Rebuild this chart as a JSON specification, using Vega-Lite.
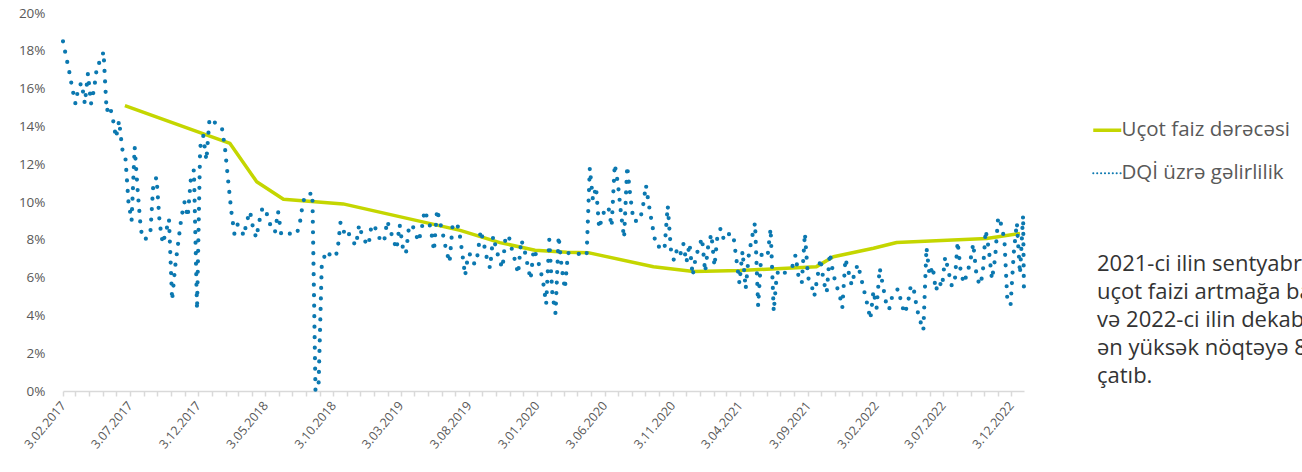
{
  "$schema": "https://vega.github.io/schema/vega-lite/v6.json",
  "width": 961,
  "height": 378,
  "autosize": {"type": "none"},
  "padding": {"left": 63, "top": 13, "right": 278, "bottom": 81},
  "background": "white",
  "config": {"view": {"stroke": null}, "font": "Open Sans"},
  "title": {
    "text": ["2021-ci ilin sentyabrından", "uçot faizi artmağa başlayıb", "və 2022-ci ilin dekabrında", "ən yüksək nöqtəyə 8,25%-ə", "çatıb."],
    "orient": "top",
    "anchor": "start",
    "frame": "group",
    "baseline": "top",
    "offset": 0,
    "dx": 1034,
    "dy": 382,
    "font": "Open Sans",
    "fontSize": 22,
    "fontWeight": "normal",
    "lineHeight": 28,
    "color": "#333333"
  },
  "datasets": {
    "rate": [
      {"date": "2017-06-22", "v": 15.1},
      {"date": "2018-02-13", "v": 13.1},
      {"date": "2018-04-14", "v": 11.07},
      {"date": "2018-06-13", "v": 10.15},
      {"date": "2018-10-25", "v": 9.9},
      {"date": "2019-07-15", "v": 8.5},
      {"date": "2019-10-12", "v": 7.85},
      {"date": "2019-12-30", "v": 7.45},
      {"date": "2020-03-10", "v": 7.34},
      {"date": "2020-04-27", "v": 7.32},
      {"date": "2020-09-21", "v": 6.57},
      {"date": "2020-12-20", "v": 6.32},
      {"date": "2021-04-03", "v": 6.37},
      {"date": "2021-09-22", "v": 6.58},
      {"date": "2021-10-30", "v": 7.1},
      {"date": "2022-01-28", "v": 7.55},
      {"date": "2022-03-21", "v": 7.86},
      {"date": "2022-10-09", "v": 8.07},
      {"date": "2022-12-23", "v": 8.34}
    ],
    "dqi": [
      {"date": "2017-02-03", "v": 18.5}, {"date": "2017-02-10", "v": 17.7}, {"date": "2017-02-17", "v": 16.9}, {"date": "2017-02-24", "v": 16.0},
      {"date": "2017-03-03", "v": 15.2}, {"date": "2017-03-10", "v": 16.1}, {"date": "2017-03-17", "v": 16.3}, {"date": "2017-03-24", "v": 15.2}, {"date": "2017-03-31", "v": 16.8},
      {"date": "2017-04-07", "v": 15.2}, {"date": "2017-04-14", "v": 16.0}, {"date": "2017-04-21", "v": 17.3}, {"date": "2017-04-28", "v": 17.4},
      {"date": "2017-05-05", "v": 17.95}, {"date": "2017-05-12", "v": 14.8}, {"date": "2017-05-19", "v": 15.1}, {"date": "2017-05-26", "v": 14.4},
      {"date": "2017-06-02", "v": 13.4}, {"date": "2017-06-09", "v": 14.3}, {"date": "2017-06-16", "v": 12.8}, {"date": "2017-06-23", "v": 12.4}, {"date": "2017-06-30", "v": 10.0},
      {"date": "2017-07-07", "v": 9.0}, {"date": "2017-07-14", "v": 12.9}, {"date": "2017-07-21", "v": 10.5}, {"date": "2017-07-28", "v": 8.5},
      {"date": "2017-08-04", "v": 8.0}, {"date": "2017-08-11", "v": 8.1}, {"date": "2017-08-18", "v": 8.3}, {"date": "2017-08-25", "v": 11.0},
      {"date": "2017-09-01", "v": 11.3}, {"date": "2017-09-08", "v": 8.9}, {"date": "2017-09-15", "v": 7.8}, {"date": "2017-09-22", "v": 8.4}, {"date": "2017-09-29", "v": 9.1},
      {"date": "2017-10-06", "v": 4.8}, {"date": "2017-10-13", "v": 6.6}, {"date": "2017-10-20", "v": 7.9}, {"date": "2017-10-27", "v": 9.2},
      {"date": "2017-11-03", "v": 10.0}, {"date": "2017-11-10", "v": 9.2}, {"date": "2017-11-17", "v": 11.2}, {"date": "2017-11-24", "v": 11.7},
      {"date": "2017-12-01", "v": 4.3}, {"date": "2017-12-08", "v": 12.9}, {"date": "2017-12-15", "v": 13.5}, {"date": "2017-12-22", "v": 12.2}, {"date": "2017-12-29", "v": 14.4},
      {"date": "2018-01-05", "v": 14.2}, {"date": "2018-01-12", "v": 14.2}, {"date": "2018-01-19", "v": 14.0}, {"date": "2018-01-26", "v": 13.9},
      {"date": "2018-02-02", "v": 12.8}, {"date": "2018-02-09", "v": 11.1}, {"date": "2018-02-16", "v": 9.5}, {"date": "2018-02-23", "v": 8.3},
      {"date": "2018-03-02", "v": 8.8}, {"date": "2018-03-09", "v": 8.6}, {"date": "2018-03-16", "v": 8.2}, {"date": "2018-03-23", "v": 9.0}, {"date": "2018-03-30", "v": 9.5},
      {"date": "2018-04-06", "v": 8.6}, {"date": "2018-04-13", "v": 8.1}, {"date": "2018-04-20", "v": 9.0}, {"date": "2018-04-27", "v": 9.7},
      {"date": "2018-05-04", "v": 9.6}, {"date": "2018-05-11", "v": 9.0}, {"date": "2018-05-18", "v": 8.6}, {"date": "2018-05-25", "v": 8.4},
      {"date": "2018-06-01", "v": 9.5}, {"date": "2018-06-08", "v": 8.3}, {"date": "2018-06-15", "v": 8.3}, {"date": "2018-06-22", "v": 8.4}, {"date": "2018-06-29", "v": 8.3},
      {"date": "2018-07-06", "v": 8.3}, {"date": "2018-07-13", "v": 8.3}, {"date": "2018-07-20", "v": 8.9}, {"date": "2018-07-27", "v": 10.0},
      {"date": "2018-08-03", "v": 10.4}, {"date": "2018-08-10", "v": 10.4}, {"date": "2018-08-17", "v": 10.5}, {"date": "2018-08-24", "v": 0.0}, {"date": "2018-08-31", "v": 0.4},
      {"date": "2018-09-07", "v": 6.6}, {"date": "2018-09-14", "v": 7.2}, {"date": "2018-09-21", "v": 7.4}, {"date": "2018-09-28", "v": 7.05},
      {"date": "2018-10-05", "v": 7.2}, {"date": "2018-10-12", "v": 7.3}, {"date": "2018-10-19", "v": 8.9}, {"date": "2018-10-26", "v": 8.4},
      {"date": "2018-11-02", "v": 8.6}, {"date": "2018-11-09", "v": 8.2}, {"date": "2018-11-16", "v": 7.9}, {"date": "2018-11-23", "v": 7.7}, {"date": "2018-11-30", "v": 8.8},
      {"date": "2018-12-07", "v": 8.2}, {"date": "2018-12-14", "v": 7.9}, {"date": "2018-12-21", "v": 7.7}, {"date": "2018-12-28", "v": 8.8},
      {"date": "2019-01-04", "v": 8.7}, {"date": "2019-01-11", "v": 8.3}, {"date": "2019-01-18", "v": 7.9}, {"date": "2019-01-25", "v": 7.9},
      {"date": "2019-02-01", "v": 9.0}, {"date": "2019-02-08", "v": 8.5}, {"date": "2019-02-15", "v": 8.0}, {"date": "2019-02-22", "v": 7.5},
      {"date": "2019-03-01", "v": 8.8}, {"date": "2019-03-08", "v": 7.6}, {"date": "2019-03-15", "v": 7.25}, {"date": "2019-03-22", "v": 8.7}, {"date": "2019-03-29", "v": 8.8},
      {"date": "2019-04-05", "v": 8.4}, {"date": "2019-04-12", "v": 7.9}, {"date": "2019-04-19", "v": 8.5}, {"date": "2019-04-26", "v": 9.55},
      {"date": "2019-05-03", "v": 9.1}, {"date": "2019-05-10", "v": 8.6}, {"date": "2019-05-17", "v": 7.4}, {"date": "2019-05-24", "v": 9.6}, {"date": "2019-05-31", "v": 8.9},
      {"date": "2019-06-07", "v": 8.2}, {"date": "2019-06-14", "v": 7.4}, {"date": "2019-06-21", "v": 6.8}, {"date": "2019-06-28", "v": 8.8},
      {"date": "2019-07-05", "v": 8.9}, {"date": "2019-07-12", "v": 8.6}, {"date": "2019-07-19", "v": 7.4}, {"date": "2019-07-26", "v": 6.1},
      {"date": "2019-08-02", "v": 7.25}, {"date": "2019-08-09", "v": 7.2}, {"date": "2019-08-16", "v": 6.7}, {"date": "2019-08-23", "v": 7.2}, {"date": "2019-08-30", "v": 8.5},
      {"date": "2019-09-06", "v": 7.8}, {"date": "2019-09-13", "v": 7.0}, {"date": "2019-09-20", "v": 6.5}, {"date": "2019-09-27", "v": 8.2},
      {"date": "2019-10-04", "v": 7.5}, {"date": "2019-10-11", "v": 6.9}, {"date": "2019-10-18", "v": 6.5}, {"date": "2019-10-25", "v": 8.2},
      {"date": "2019-11-01", "v": 8.2}, {"date": "2019-11-08", "v": 7.5}, {"date": "2019-11-15", "v": 6.9}, {"date": "2019-11-22", "v": 6.2}, {"date": "2019-11-29", "v": 8.0},
      {"date": "2019-12-06", "v": 7.5}, {"date": "2019-12-13", "v": 6.7}, {"date": "2019-12-20", "v": 5.9}, {"date": "2019-12-27", "v": 7.5},
      {"date": "2020-01-03", "v": 7.1}, {"date": "2020-01-10", "v": 6.5}, {"date": "2020-01-17", "v": 5.8}, {"date": "2020-01-24", "v": 4.6}, {"date": "2020-01-31", "v": 8.0},
      {"date": "2020-02-07", "v": 5.1}, {"date": "2020-02-14", "v": 4.1}, {"date": "2020-02-21", "v": 8.2}, {"date": "2020-02-28", "v": 6.5},
      {"date": "2020-03-06", "v": 5.4}, {"date": "2020-03-13", "v": 7.3}, {"date": "2020-03-20", "v": 7.3}, {"date": "2020-03-27", "v": 7.3},
      {"date": "2020-04-03", "v": 7.3}, {"date": "2020-04-10", "v": 7.2}, {"date": "2020-04-17", "v": 7.1}, {"date": "2020-04-24", "v": 7.3},
      {"date": "2020-05-01", "v": 11.8}, {"date": "2020-05-08", "v": 10.1}, {"date": "2020-05-15", "v": 10.8}, {"date": "2020-05-22", "v": 8.6}, {"date": "2020-05-29", "v": 9.2},
      {"date": "2020-06-05", "v": 9.7}, {"date": "2020-06-12", "v": 9.7}, {"date": "2020-06-19", "v": 8.7}, {"date": "2020-06-26", "v": 12.0},
      {"date": "2020-07-03", "v": 11.0}, {"date": "2020-07-10", "v": 9.4}, {"date": "2020-07-17", "v": 8.1}, {"date": "2020-07-24", "v": 11.9}, {"date": "2020-07-31", "v": 10.3},
      {"date": "2020-08-07", "v": 9.0}, {"date": "2020-08-14", "v": 9.0}, {"date": "2020-08-21", "v": 9.0}, {"date": "2020-08-28", "v": 9.7},
      {"date": "2020-09-04", "v": 10.9}, {"date": "2020-09-11", "v": 9.8}, {"date": "2020-09-18", "v": 8.8}, {"date": "2020-09-25", "v": 7.9},
      {"date": "2020-10-02", "v": 7.6}, {"date": "2020-10-09", "v": 7.8}, {"date": "2020-10-16", "v": 7.6}, {"date": "2020-10-23", "v": 9.8}, {"date": "2020-10-30", "v": 7.5},
      {"date": "2020-11-06", "v": 6.9}, {"date": "2020-11-13", "v": 7.5}, {"date": "2020-11-20", "v": 7.2}, {"date": "2020-11-27", "v": 7.8},
      {"date": "2020-12-04", "v": 6.8}, {"date": "2020-12-11", "v": 7.8}, {"date": "2020-12-18", "v": 6.1}, {"date": "2020-12-25", "v": 7.1},
      {"date": "2021-01-01", "v": 7.6}, {"date": "2021-01-08", "v": 8.1}, {"date": "2021-01-15", "v": 6.3}, {"date": "2021-01-22", "v": 7.7}, {"date": "2021-01-29", "v": 8.3},
      {"date": "2021-02-05", "v": 6.6}, {"date": "2021-02-12", "v": 8.3}, {"date": "2021-02-19", "v": 8.6}, {"date": "2021-02-26", "v": 8.0},
      {"date": "2021-03-05", "v": 8.3}, {"date": "2021-03-12", "v": 8.3}, {"date": "2021-03-19", "v": 8.3}, {"date": "2021-03-26", "v": 7.0},
      {"date": "2021-04-02", "v": 5.7}, {"date": "2021-04-09", "v": 7.4}, {"date": "2021-04-16", "v": 5.4}, {"date": "2021-04-23", "v": 7.2}, {"date": "2021-04-30", "v": 8.1},
      {"date": "2021-05-07", "v": 8.9}, {"date": "2021-05-14", "v": 4.5}, {"date": "2021-05-21", "v": 7.2}, {"date": "2021-05-28", "v": 7.2},
      {"date": "2021-06-04", "v": 7.1}, {"date": "2021-06-11", "v": 8.6}, {"date": "2021-06-18", "v": 4.2}, {"date": "2021-06-25", "v": 6.2},
      {"date": "2021-07-02", "v": 6.4}, {"date": "2021-07-09", "v": 6.2}, {"date": "2021-07-16", "v": 6.3}, {"date": "2021-07-23", "v": 6.4}, {"date": "2021-07-30", "v": 6.6},
      {"date": "2021-08-06", "v": 7.2}, {"date": "2021-08-13", "v": 6.0}, {"date": "2021-08-20", "v": 5.7}, {"date": "2021-08-27", "v": 8.35},
      {"date": "2021-09-03", "v": 6.0}, {"date": "2021-09-10", "v": 5.7}, {"date": "2021-09-17", "v": 5.0}, {"date": "2021-09-24", "v": 6.0},
      {"date": "2021-10-01", "v": 7.0}, {"date": "2021-10-08", "v": 5.8}, {"date": "2021-10-15", "v": 5.2}, {"date": "2021-10-22", "v": 7.3}, {"date": "2021-10-29", "v": 6.3},
      {"date": "2021-11-05", "v": 5.6}, {"date": "2021-11-12", "v": 5.2}, {"date": "2021-11-19", "v": 4.4}, {"date": "2021-11-26", "v": 7.0},
      {"date": "2021-12-03", "v": 6.3}, {"date": "2021-12-10", "v": 5.6}, {"date": "2021-12-17", "v": 6.3}, {"date": "2021-12-24", "v": 6.7}, {"date": "2021-12-31", "v": 6.0},
      {"date": "2022-01-07", "v": 5.3}, {"date": "2022-01-14", "v": 4.6}, {"date": "2022-01-21", "v": 3.8}, {"date": "2022-01-28", "v": 5.3},
      {"date": "2022-02-04", "v": 4.4}, {"date": "2022-02-11", "v": 6.5}, {"date": "2022-02-18", "v": 5.6}, {"date": "2022-02-25", "v": 4.7},
      {"date": "2022-03-04", "v": 4.3}, {"date": "2022-03-11", "v": 5.0}, {"date": "2022-03-18", "v": 5.3}, {"date": "2022-03-25", "v": 5.4},
      {"date": "2022-04-01", "v": 4.6}, {"date": "2022-04-08", "v": 4.1}, {"date": "2022-04-15", "v": 4.6}, {"date": "2022-04-22", "v": 5.6}, {"date": "2022-04-29", "v": 5.3},
      {"date": "2022-05-06", "v": 4.3}, {"date": "2022-05-13", "v": 3.7}, {"date": "2022-05-20", "v": 3.2}, {"date": "2022-05-27", "v": 7.6},
      {"date": "2022-06-03", "v": 6.1}, {"date": "2022-06-10", "v": 6.6}, {"date": "2022-06-17", "v": 5.3}, {"date": "2022-06-24", "v": 5.8},
      {"date": "2022-07-01", "v": 5.5}, {"date": "2022-07-08", "v": 7.1}, {"date": "2022-07-15", "v": 6.4}, {"date": "2022-07-22", "v": 5.6}, {"date": "2022-07-29", "v": 5.6},
      {"date": "2022-08-05", "v": 7.9}, {"date": "2022-08-12", "v": 6.3}, {"date": "2022-08-19", "v": 5.7}, {"date": "2022-08-26", "v": 6.2},
      {"date": "2022-09-02", "v": 6.8}, {"date": "2022-09-09", "v": 7.8}, {"date": "2022-09-16", "v": 6.2}, {"date": "2022-09-23", "v": 5.6}, {"date": "2022-09-30", "v": 6.1},
      {"date": "2022-10-07", "v": 8.5}, {"date": "2022-10-14", "v": 7.5}, {"date": "2022-10-21", "v": 5.9}, {"date": "2022-10-28", "v": 7.0},
      {"date": "2022-11-04", "v": 9.2}, {"date": "2022-11-11", "v": 8.8}, {"date": "2022-11-18", "v": 8.0}, {"date": "2022-11-25", "v": 4.6},
      {"date": "2022-12-02", "v": 4.6}, {"date": "2022-12-09", "v": 7.3}, {"date": "2022-12-16", "v": 8.9}, {"date": "2022-12-23", "v": 6.2}, {"date": "2022-12-30", "v": 9.3},
      {"date": "2023-01-01", "v": 5.0}
    ]
  },
  "encoding": {
    "x": {
      "field": "date",
      "type": "temporal",
      "scale": {"domain": [{"year": 2017, "month": 2, "date": 3}, {"year": 2023, "month": 1, "date": 1}]},
      "axis": {
        "title": null,
        "grid": false,
        "values": [
          {"year": 2017, "month": 2, "date": 3}, {"year": 2017, "month": 3, "date": 3}, {"year": 2017, "month": 4, "date": 3}, {"year": 2017, "month": 5, "date": 3}, {"year": 2017, "month": 6, "date": 3}, {"year": 2017, "month": 7, "date": 3}, {"year": 2017, "month": 8, "date": 3}, {"year": 2017, "month": 9, "date": 3}, {"year": 2017, "month": 10, "date": 3}, {"year": 2017, "month": 11, "date": 3}, {"year": 2017, "month": 12, "date": 3},
          {"year": 2018, "month": 1, "date": 3}, {"year": 2018, "month": 2, "date": 3}, {"year": 2018, "month": 3, "date": 3}, {"year": 2018, "month": 4, "date": 3}, {"year": 2018, "month": 5, "date": 3}, {"year": 2018, "month": 6, "date": 3}, {"year": 2018, "month": 7, "date": 3}, {"year": 2018, "month": 8, "date": 3}, {"year": 2018, "month": 9, "date": 3}, {"year": 2018, "month": 10, "date": 3}, {"year": 2018, "month": 11, "date": 3}, {"year": 2018, "month": 12, "date": 3},
          {"year": 2019, "month": 1, "date": 3}, {"year": 2019, "month": 2, "date": 3}, {"year": 2019, "month": 3, "date": 3}, {"year": 2019, "month": 4, "date": 3}, {"year": 2019, "month": 5, "date": 3}, {"year": 2019, "month": 6, "date": 3}, {"year": 2019, "month": 7, "date": 3}, {"year": 2019, "month": 8, "date": 3}, {"year": 2019, "month": 9, "date": 3}, {"year": 2019, "month": 10, "date": 3}, {"year": 2019, "month": 11, "date": 3}, {"year": 2019, "month": 12, "date": 3},
          {"year": 2020, "month": 1, "date": 3}, {"year": 2020, "month": 2, "date": 3}, {"year": 2020, "month": 3, "date": 3}, {"year": 2020, "month": 4, "date": 3}, {"year": 2020, "month": 5, "date": 3}, {"year": 2020, "month": 6, "date": 3}, {"year": 2020, "month": 7, "date": 3}, {"year": 2020, "month": 8, "date": 3}, {"year": 2020, "month": 9, "date": 3}, {"year": 2020, "month": 10, "date": 3}, {"year": 2020, "month": 11, "date": 3}, {"year": 2020, "month": 12, "date": 3},
          {"year": 2021, "month": 1, "date": 3}, {"year": 2021, "month": 2, "date": 3}, {"year": 2021, "month": 3, "date": 3}, {"year": 2021, "month": 4, "date": 3}, {"year": 2021, "month": 5, "date": 3}, {"year": 2021, "month": 6, "date": 3}, {"year": 2021, "month": 7, "date": 3}, {"year": 2021, "month": 8, "date": 3}, {"year": 2021, "month": 9, "date": 3}, {"year": 2021, "month": 10, "date": 3}, {"year": 2021, "month": 11, "date": 3}, {"year": 2021, "month": 12, "date": 3},
          {"year": 2022, "month": 1, "date": 3}, {"year": 2022, "month": 2, "date": 3}, {"year": 2022, "month": 3, "date": 3}, {"year": 2022, "month": 4, "date": 3}, {"year": 2022, "month": 5, "date": 3}, {"year": 2022, "month": 6, "date": 3}, {"year": 2022, "month": 7, "date": 3}, {"year": 2022, "month": 8, "date": 3}, {"year": 2022, "month": 9, "date": 3}, {"year": 2022, "month": 10, "date": 3}, {"year": 2022, "month": 11, "date": 3}, {"year": 2022, "month": 12, "date": 3}
        ],
        "labelExpr": "(year(datum.value) * 12 + month(datum.value)) % 5 == 0 ? timeFormat(datum.value, '%-d.%m.%Y') : ''",
        "labelAngle": -50,
        "labelAlign": "right",
        "labelBaseline": "middle",
        "labelFont": "Open Sans",
        "labelFontSize": 12.5,
        "labelColor": "#595959",
        "labelOverlap": false,
        "labelBound": false,
        "labelFlush": false,
        "labelPadding": 7,
        "domainColor": "#D9D9D9",
        "domainWidth": 1.5,
        "tickColor": "#D9D9D9",
        "tickWidth": 1.5,
        "tickSize": 5,
        "encode": {
          "ticks": {"update": {"y2": {"signal": "(year(datum.value) * 12 + month(datum.value)) % 5 == 0 ? 10 : 5"}}}
        }
      }
    },
    "y": {
      "field": "v",
      "type": "quantitative",
      "scale": {"domain": [0, 20], "nice": false},
      "axis": {
        "title": null,
        "grid": false,
        "domain": false,
        "ticks": false,
        "tickSize": 0,
        "values": [0, 2, 4, 6, 8, 10, 12, 14, 16, 18, 20],
        "labelExpr": "datum.value + '%'",
        "labelFont": "Open Sans",
        "labelFontSize": 13.5,
        "labelColor": "#595959",
        "labelPadding": 18
      }
    }
  },
  "layer": [
    {
      "data": {"name": "rate"},
      "mark": {"type": "line", "strokeWidth": 3.5, "strokeJoin": "round"},
      "encoding": {
        "color": {
          "datum": "Uçot faiz dərəcəsi",
          "type": "nominal",
          "scale": {"domain": ["Uçot faiz dərəcəsi", "DQİ üzrə gəlirlilik"], "range": ["#C4D600", "#0B78B0"]},
          "legend": {
            "title": null,
            "orient": "none",
            "legendX": 1034,
            "legendY": 107,
            "symbolType": "stroke",
            "symbolSize": 784,
            "symbolStrokeWidth": 3.5,
            "labelFont": "Open Sans",
            "labelFontSize": 20.5,
            "labelColor": "#595959",
            "labelLimit": 400,
            "labelOffset": 4,
            "rowPadding": 22,
            "encode": {
              "symbols": {
                "update": {
                  "strokeDash": {"signal": "datum.value == 'DQİ üzrə gəlirlilik' ? [0.1, 3.8] : [1, 0]"},
                  "strokeWidth": {"signal": "datum.value == 'DQİ üzrə gəlirlilik' ? 2 : 3.5"},
                  "strokeCap": {"signal": "datum.value == 'DQİ üzrə gəlirlilik' ? 'round' : 'butt'"}
                }
              }
            }
          }
        }
      }
    },
    {
      "data": {"name": "dqi"},
      "mark": {"type": "line", "strokeWidth": 4.2, "strokeDash": [0, 10.5], "strokeCap": "round", "strokeJoin": "round"},
      "encoding": {
        "color": {"datum": "DQİ üzrə gəlirlilik", "type": "nominal"}
      }
    }
  ]
}
